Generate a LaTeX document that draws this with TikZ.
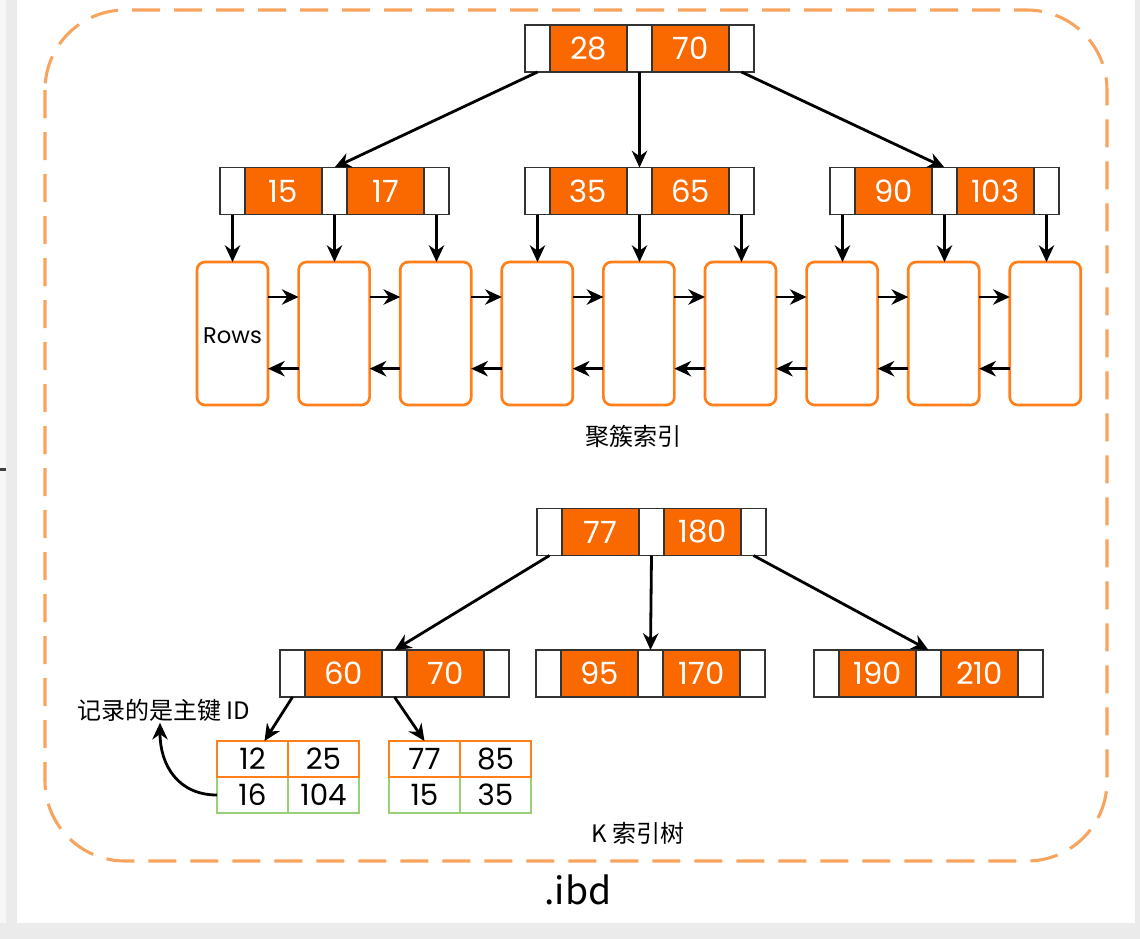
\documentclass[tikz,border=0pt]{standalone}
\usepackage{fontspec}
\setmainfont{Poppins}
\newfontfamily\cjk{Noto Sans CJK SC}
\usetikzlibrary{arrows.meta}

\definecolor{keyorange}{HTML}{FA6800}
\definecolor{pageorange}{HTML}{FF7F1A}
\definecolor{frameorange}{HTML}{F7A45E}
\definecolor{rowgreen}{HTML}{97D077}
\definecolor{outline}{HTML}{333333}
\definecolor{canvasgray}{HTML}{EBEBEB}
\definecolor{edgegray}{HTML}{F7F7F7}

\tikzset{
  ptr/.style={draw=outline, line width=1.1pt, fill=white, minimum width=18.75pt,
    minimum height=35.25pt, inner sep=0pt, outer sep=0pt, anchor=west},
  keybox/.style={ptr, fill=keyorange, minimum width=57.75pt, text=white,
    font=\fontsize{23}{23}\selectfont},
  page/.style={draw=pageorange, line width=2pt, rounded corners=6pt, fill=white,
    minimum width=53.25pt, minimum height=107.25pt, inner sep=0pt, outer sep=0pt,
    anchor=north west},
  link/.style={line width=2.1pt, -{Stealth[length=12.5pt,width=11.5pt,inset=4pt]}},
  topcell/.style={draw=pageorange, line width=1.5pt, fill=white, minimum width=53.25pt,
    minimum height=27pt, inner sep=0pt, outer sep=0pt, anchor=north west,
    font=\fontsize{22}{22}\selectfont},
  botcell/.style={topcell, draw=rowgreen},
  label/.style={font=\cjk\fontsize{18}{20}\selectfont, inner sep=1pt},
}

% one B+ tree node: three pointer slots around two keys
% #1 name, #2 left x, #3 centre y, #4 first key, #5 second key
\newcommand\keynode[5]{%
  \node[ptr] (#1a) at (#2,#3) {};
  \node[keybox] (#1b) at (#1a.east) {#4};
  \node[ptr] (#1c) at (#1b.east) {};
  \node[keybox] (#1d) at (#1c.east) {#5};
  \node[ptr] (#1e) at (#1d.east) {};
}

\begin{document}
\begin{tikzpicture}[x=0.75pt, y=-0.75pt]
  \useasboundingbox (0,0) rectangle (1140,939);
  % canvas
  \fill[canvasgray] (0,0) rectangle (1140,939);
  \fill[edgegray] (0,0) rectangle (6,923);
  \fill[white] (17,0) rectangle (1135,923);
  \fill[black!75] (0,468) rectangle (6,471);

  % the .ibd file frame
  \draw[frameorange, line width=2.3pt, dash pattern=on 21pt off 10.5pt,
        rounded corners=60pt] (45,10) rectangle (1107,861);

  % ---------- clustered index ----------
  \keynode{r}{525}{48.5}{28}{70}
  \keynode{ma}{220}{191}{15}{17}
  \keynode{mb}{525}{191}{35}{65}
  \keynode{mc}{830}{191}{90}{103}

  \draw[link] (ra.south) -- (mac.north);
  \draw[link] (rc.south) -- (mbc.north);
  \draw[link] (re.south) -- (mcc.north);

  \foreach \i in {1,...,9}
    \node[page] (pg\i) at ({197+(\i-1)*101.6},262) {};
  \node[font=\fontsize{17}{18}\selectfont] (rows) at ([yshift=-2pt]pg1.center) {Rows};

  \foreach \n/\p in {maa/1, mac/2, mae/3, mba/4, mbc/5, mbe/6, mca/7, mcc/8, mce/9}
    \draw[link] (\n.south) -- (\n.south |- pg\p.north);

  \foreach \i/\j in {1/2, 2/3, 3/4, 4/5, 5/6, 6/7, 7/8, 8/9} {
    \draw[link] ([yshift=-26.25pt]pg\i.north east) -- ([yshift=-26.25pt]pg\j.north west);
    \draw[link] ([yshift=-80pt]pg\j.north west) -- ([yshift=-80pt]pg\i.north east);
  }

  \node[label] (cname) at (633,436) {聚簇索引};

  % ---------- secondary index on K ----------
  \keynode{s}{537}{532}{77}{180}
  \keynode{ua}{280}{673.5}{60}{70}
  \keynode{ub}{536}{673.5}{95}{170}
  \keynode{uc}{814}{673.5}{190}{210}

  \draw[link] (sa.south) -- (uac.north);
  \draw[link] (sc.south) -- (ubc.north);
  \draw[link] (se.south) -- (ucc.north);

  % leaf entries: index value over primary key
  \node[botcell] (tc) at (217,777) {16};
  \node[botcell] (td) at (tc.north east) {104};
  \node[topcell] (ta) at (217,741) {12};
  \node[topcell] (tb) at (ta.north east) {25};

  \node[botcell] (vc) at (389,777) {15};
  \node[botcell] (vd) at (vc.north east) {35};
  \node[topcell] (va) at (389,741) {77};
  \node[topcell] (vb) at (va.north east) {85};

  \draw[link] (uaa.south) -- ([xshift=9pt]ta.north);
  \draw[link] (uac.south) -- (va.north);

  \node[label] (note) at (164,710) {记录的是主键 ID};
  \draw[link] (tc.west) .. controls (178,795) and (160,765) .. ([xshift=-3pt]note.south);

  \node[label] (kname) at (638,833) {K 索引树};
  \node[font=\cjk\fontsize{28}{30}\selectfont] (file) at (578,890) {.ibd};
\end{tikzpicture}
\end{document}
